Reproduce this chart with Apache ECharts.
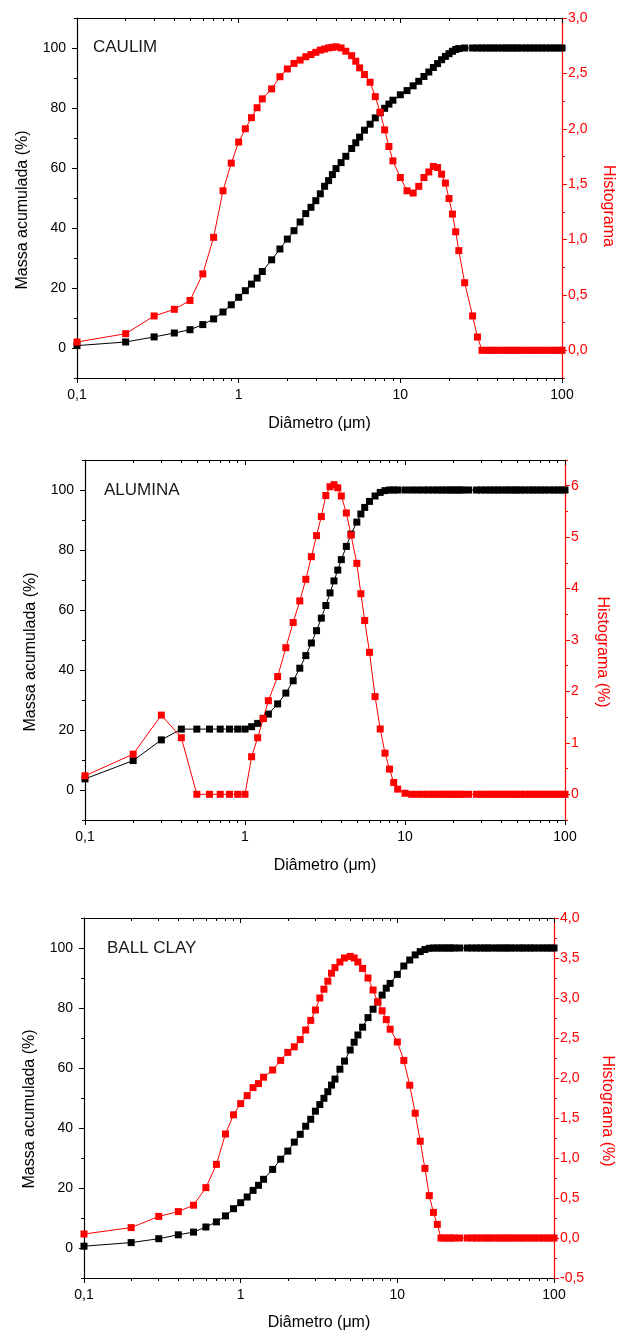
<!DOCTYPE html>
<html><head><meta charset="utf-8">
<script src="https://cdn.jsdelivr.net/npm/echarts@6/dist/echarts.min.js"></script>
<style>html,body{margin:0;padding:0;background:#fff}#c{width:619px;height:1333px}</style>
</head><body><div id="c"></div>
<script>
// ---- data ----
const diameters = [0.1,0.2,0.3,0.4,0.5,0.6,0.7,0.8,0.9,1.0,
  1.1,1.2,1.3,1.4,1.6,1.8,
  2.0,2.2,2.4,2.6,2.8,
  3.0,3.2,3.4,3.6,3.8,
  4.0,4.3,4.6,
  5.0,5.3,5.6,
  6.0,6.5,7.0,7.5,8.0,8.5,9.0,
  10,11,12,13,14,15,16,17,18,19,20,
  21,22,23,25,28,30,32,
  34,36,38,40,43,45,48,50,53,56,60,63,67,71,75,80,85,90,95,100];

const caulimCum = [0.8,2.0,3.7,5.0,6.1,7.8,9.7,12.0,14.4,16.9,
  19.1,21.3,23.3,25.5,29.4,33.0,
  36.3,39.1,42.0,44.8,46.9,
  49.1,51.4,53.9,55.8,57.8,
  59.8,61.8,63.9,
  66.5,68.4,70.3,
  72.6,74.6,76.7,78.4,79.9,81.3,82.6,
  84.4,85.8,87.4,88.9,90.5,92.0,93.5,94.8,96.1,97.2,98.1,
  98.9,99.5,99.8,100,100,100,100,
  100,100,100,100,100,100,100,100,100,100,100,100,100,100,100,100,100,100,100,100];
const caulimHist = [0.075,0.15,0.31,0.37,0.45,0.69,1.02,1.44,1.69,1.88,
  2.00,2.10,2.19,2.27,2.36,2.47,
  2.54,2.59,2.62,2.65,2.67,
  2.69,2.71,2.72,2.73,2.735,
  2.74,2.73,2.70,
  2.66,2.61,2.55,
  2.49,2.42,2.29,2.15,1.99,1.84,1.71,
  1.56,1.44,1.42,1.48,1.56,1.61,1.66,1.65,1.59,1.51,1.37,
  1.23,1.07,0.90,0.61,0.31,0.12,0,
  0,0,0,0,0,0,0,0,0,0,0,0,0,0,0,0,0,0,0,0];

const aluminaCum = [3.7,9.8,16.7,20.3,20.3,20.3,20.3,20.3,20.3,20.3,
  21.1,22.2,23.9,25.3,28.7,32.3,
  36.4,40.6,44.8,49.0,53.1,
  57.3,61.5,65.7,69.7,73.3,
  76.8,81.2,85.3,
  89.3,92.0,94.2,
  96.2,98.0,99.2,99.8,100,100,100,
  100,100,100,100,100,100,100,100,100,100,100,
  100,100,100,100,100,100,100,
  100,100,100,100,100,100,100,100,100,100,100,100,100,100,100,100,100,100,100,100];
const aluminaHist = [0.36,0.78,1.54,1.10,0,0,0,0,0,0,
  0.73,1.10,1.47,1.82,2.29,2.85,
  3.34,3.76,4.18,4.62,5.03,
  5.40,5.81,5.98,6.02,5.96,
  5.80,5.47,5.04,
  4.49,3.90,3.38,
  2.76,1.90,1.27,0.80,0.49,0.23,0.10,
  0.02,0,0,0,0,0,0,0,0,0,0,
  0,0,0,0,0,0,0,
  0,0,0,0,0,0,0,0,0,0,0,0,0,0,0,0,0,0,0,0];

const ballClayCum = [0.6,1.8,3.1,4.4,5.3,7.0,8.7,10.7,13.1,15.1,
  17.0,19.2,20.9,22.9,26.2,29.6,
  32.3,35.3,37.9,40.6,42.9,
  45.6,47.8,49.9,52.1,54.3,
  56.3,59.6,62.3,
  66.0,68.6,71.0,
  73.6,76.8,79.6,82.0,84.3,86.6,88.2,
  91.2,94.0,96.0,97.7,98.8,99.5,99.9,100,100,100,100,
  100,100,100,100,100,100,100,
  100,100,100,100,100,100,100,100,100,100,100,100,100,100,100,100,100,100,100,100];
const ballClayHist = [0.05,0.13,0.27,0.33,0.41,0.63,0.92,1.30,1.54,1.68,
  1.78,1.88,1.93,2.01,2.10,2.22,
  2.32,2.39,2.48,2.60,2.72,
  2.85,3.00,3.11,3.21,3.31,
  3.38,3.45,3.50,
  3.52,3.50,3.45,
  3.37,3.25,3.10,2.95,2.84,2.73,2.61,
  2.45,2.22,1.91,1.56,1.21,0.87,0.53,0.32,0.17,0,0,
  0,0,0,0,0,0,0,
  0,0,0,0,0,0,0,0,0,0,0,0,0,0,0,0,0,0,0,0];

// ---- tick values ----
const xMajorTicks = [0.1,1,10,100];
const xMinorTicks = [0.2,0.3,0.4,0.5,0.6,0.7,0.8,0.9,2,3,4,5,6,7,8,9,20,30,40,50,60,70,80,90];
const leftMajorTicks = [0,20,40,60,80,100];
const leftMinorTicks = [-10,10,30,50,70,90,110];
const caulimRightTicks = [0,0.5,1,1.5,2,2.5,3];
const caulimRightMinor = [-0.25,0.25,0.75,1.25,1.75,2.25,2.75];
const aluminaRightTicks = [0,1,2,3,4,5,6];
const aluminaRightMinor = [-0.5,0.5,1.5,2.5,3.5,4.5,5.5,6.5];
const ballClayRightTicks = [-0.5,0,0.5,1,1.5,2,2.5,3,3.5,4];
const ballClayRightMinor = [-0.25,0.25,0.75,1.25,1.75,2.25,2.75,3.25,3.75];

const panelTitles = ['CAULIM','ALUMINA','BALL CLAY'];
const leftName = 'Massa acumulada (%)';
const rightNames = ['Histograma','Histograma (%)','Histograma (%)'];
const xName = 'Diâmetro (μm)';

// ---- layout / style ----
const FONT = '"Liberation Sans", Arial, sans-serif';
const panels = [
  {cum: caulimCum, hist: caulimHist, rMin: -0.25, rMax: 3, rTicks: caulimRightTicks, rMinor: caulimRightMinor, dec: 1,
   grid: {left: 77, top: 18, width: 485, height: 360}, lGap: 46, rGap: 38, xGap: 38, lShift: 12, rShift: 8, title: [93, 47]},
  {cum: aluminaCum, hist: aluminaHist, rMin: -0.5, rMax: 6.5, rTicks: aluminaRightTicks, rMinor: aluminaRightMinor, dec: 0,
   grid: {left: 85, top: 460, width: 480, height: 360}, lGap: 46, rGap: 29, xGap: 38, lShift: 12, rShift: 12, title: [104, 490.5]},
  {cum: ballClayCum, hist: ballClayHist, rMin: -0.5, rMax: 4, rTicks: ballClayRightTicks, rMinor: ballClayRightMinor, dec: 1,
   grid: {left: 84, top: 918, width: 470, height: 360}, lGap: 46, rGap: 45, xGap: 37, lShift: 11, rShift: 13, title: [107, 948]}
];

const fmtNum = (v, d) => (d === 0 ? String(Math.round(v)) : v.toFixed(d)).replace('.', ',');
const fmtX = v => String(Number(v.toPrecision(6))).replace('.', ',');

const grids = [], xAxes = [], yAxes = [], series = [], graphics = [];
const BLACK = '#000000', RED = '#ff0000';

panels.forEach((p, gi) => {
  grids.push(Object.assign({containLabel: false, outerBoundsMode: 'none'}, p.grid));
  const xBase = {type: 'log', logBase: 10, min: 0.1, max: 100, gridIndex: gi,
    splitLine: {show: false}, minorTick: {show: false}, minorSplitLine: {show: false}};
  xAxes.push(Object.assign({}, xBase, {position: 'bottom',
    axisLine: {show: true, onZero: false, lineStyle: {color: BLACK, width: 1.2}},
    axisTick: {show: true, length: 5, customValues: xMajorTicks, lineStyle: {color: BLACK, width: 1}},
    axisLabel: {show: true, customValues: xMajorTicks, formatter: fmtX, margin: 10, color: BLACK, fontSize: 14, fontFamily: FONT},
    name: xName, nameLocation: 'middle', nameGap: p.xGap,
    nameTextStyle: {color: BLACK, fontSize: 16, fontFamily: FONT}}));
  xAxes.push(Object.assign({}, xBase, {position: 'bottom',
    axisLine: {show: false, onZero: false},
    axisTick: {show: true, length: 3, customValues: xMinorTicks, lineStyle: {color: BLACK, width: 1}},
    axisLabel: {show: false}}));
  xAxes.push(Object.assign({}, xBase, {position: 'top',
    axisLine: {show: true, onZero: false, lineStyle: {color: BLACK, width: 1.2}},
    axisTick: {show: true, inside: true, length: 5, customValues: xMajorTicks, lineStyle: {color: BLACK, width: 1}},
    axisLabel: {show: false}}));
  xAxes.push(Object.assign({}, xBase, {position: 'top',
    axisLine: {show: false, onZero: false},
    axisTick: {show: true, inside: true, length: 3, customValues: xMinorTicks, lineStyle: {color: BLACK, width: 1}},
    axisLabel: {show: false}}));

  const lBase = {type: 'value', min: -10, max: 110, gridIndex: gi, position: 'left',
    splitLine: {show: false}, minorTick: {show: false}};
  yAxes.push(Object.assign({}, lBase, {
    axisLine: {show: true, onZero: false, lineStyle: {color: BLACK, width: 1.2}},
    axisTick: {show: true, length: 5, customValues: leftMajorTicks, lineStyle: {color: BLACK, width: 1}},
    axisLabel: {show: true, customValues: leftMajorTicks, margin: 11, color: BLACK, fontSize: 14, fontFamily: FONT},
    name: leftName, nameLocation: 'middle', nameGap: p.lGap, nameRotate: 90,
    nameTextStyle: {color: BLACK, fontSize: 16, fontFamily: FONT, padding: [0, 2 * p.lShift, 0, 0]}}));
  yAxes.push(Object.assign({}, lBase, {
    axisLine: {show: false, onZero: false},
    axisTick: {show: true, length: 3, customValues: leftMinorTicks, lineStyle: {color: BLACK, width: 1}},
    axisLabel: {show: false}}));

  const rBase = {type: 'value', min: p.rMin, max: p.rMax, gridIndex: gi, position: 'right',
    splitLine: {show: false}, minorTick: {show: false}};
  yAxes.push(Object.assign({}, rBase, {
    axisLine: {show: true, onZero: false, lineStyle: {color: RED, width: 1.2}},
    axisTick: {show: true, length: 5, customValues: p.rTicks, lineStyle: {color: RED, width: 1}},
    axisLabel: {show: true, customValues: p.rTicks, margin: 6, color: RED, fontSize: 14, fontFamily: FONT,
      formatter: v => fmtNum(v, p.dec)},
    name: rightNames[gi], nameLocation: 'middle', nameGap: p.rGap, nameRotate: -90,
    nameTextStyle: {color: RED, fontSize: 16, fontFamily: FONT, padding: [0, 0, 0, 2 * p.rShift]}}));
  yAxes.push(Object.assign({}, rBase, {
    axisLine: {show: false, onZero: false},
    axisTick: {show: true, length: 3, customValues: p.rMinor, lineStyle: {color: RED, width: 1}},
    axisLabel: {show: false}}));

  series.push({type: 'line', xAxisIndex: 4 * gi, yAxisIndex: 4 * gi,
    data: diameters.map((d, i) => [d, p.cum[i]]),
    symbol: 'rect', symbolSize: 7, showSymbol: true,
    lineStyle: {color: BLACK, width: 1}, itemStyle: {color: BLACK}, z: 3});
  series.push({type: 'line', xAxisIndex: 4 * gi, yAxisIndex: 4 * gi + 2,
    data: diameters.map((d, i) => [d, p.hist[i]]),
    symbol: 'rect', symbolSize: 7, showSymbol: true,
    lineStyle: {color: RED, width: 1}, itemStyle: {color: RED}, z: 4});

  graphics.push({type: 'text', x: p.title[0], y: p.title[1], z: 10,
    style: {text: panelTitles[gi], font: '17px ' + FONT, fill: '#1a1a1a', verticalAlign: 'middle', align: 'left'}});
});

const chart = echarts.init(document.getElementById('c'), null, {renderer: 'canvas'});
chart.setOption({
  animation: false,
  backgroundColor: '#ffffff',
  grid: grids,
  xAxis: xAxes,
  yAxis: yAxes,
  series: series,
  graphic: graphics
});
</script>
</body></html>
